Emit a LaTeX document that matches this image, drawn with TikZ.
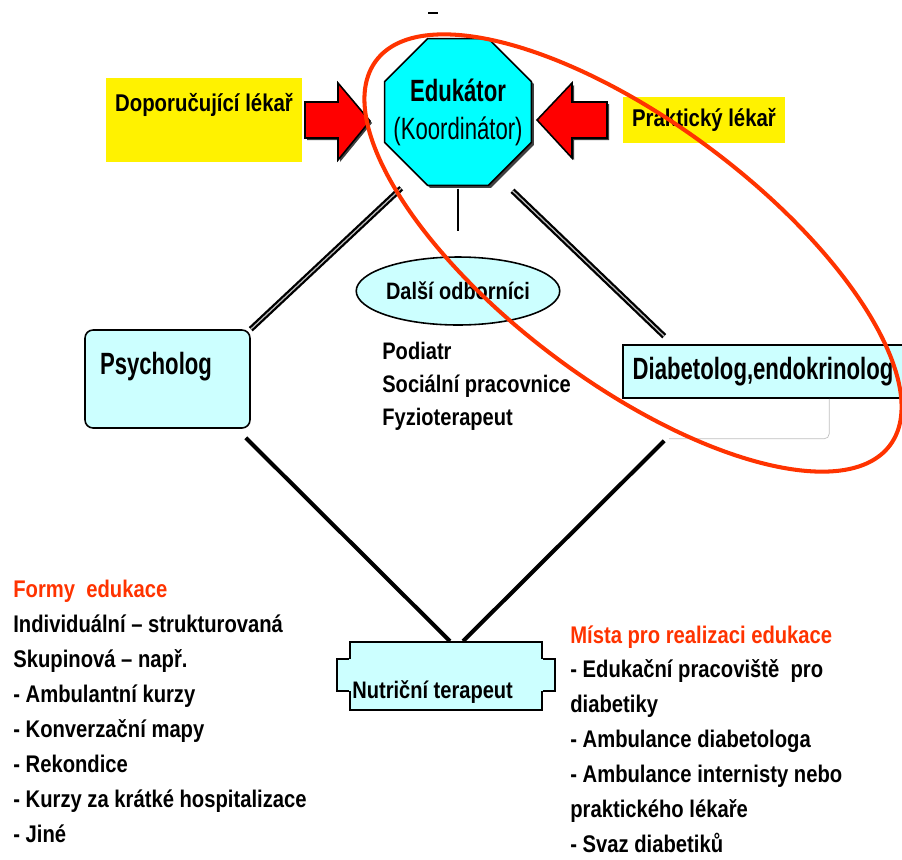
\documentclass[tikz,border=0pt]{standalone}
\usepackage{fontspec}
\setmainfont{Liberation Sans}[FakeStretch=0.84]
\newfontfamily\narrowfont{Liberation Sans}[FakeStretch=0.72]
\usetikzlibrary{shapes.geometric,positioning,shadows}
\definecolor{paleblue}{RGB}{204,255,255}
\definecolor{hubcyan}{RGB}{0,255,255}
\definecolor{loopred}{RGB}{255,51,0}
\tikzset
{
    plaintext/.style = {align=left, inner sep=0pt, font=\bfseries\fontsize{13.7}{19.9}\selectfont},
    notebox/.style   = {fill=yellow, inner sep=0pt, font=\bfseries\fontsize{13.8}{16}\selectfont},
    hubnode/.style   = {regular polygon, regular polygon sides=8, minimum size=3.18cm, inner sep=0pt, draw=black, line width=0.9pt, fill=hubcyan, drop shadow={shadow xshift=0.05cm, shadow yshift=-0.05cm, fill=black!75, opacity=1}},
    hubtext/.style   = {align=center, inner sep=0pt, font=\narrowfont\fontsize{17.5}{21.6}\selectfont},
    rolebox/.style   = {draw=black, line width=0.9pt, fill=paleblue, inner sep=0pt, font=\narrowfont\bfseries\fontsize{17.5}{21}\selectfont},
    ovalnode/.style  = {ellipse, draw=black, line width=0.9pt, fill=paleblue, inner sep=0pt, minimum width=3.3cm, minimum height=1.36cm, font=\bfseries\fontsize{13.5}{16}\selectfont},
    link/.style      = {line width=2.3pt, black},
    dlink/.style     = {line width=1.3pt, double=gray!50, double distance=0.7pt},
    pointer/.style   = {fill=red, draw=black, line width=0.9pt}
}

\begin{document}
\begin{tikzpicture}[x=0.02cm, y=-0.02cm]
\useasboundingbox (0,0) rectangle (902,859);
\draw[line width=1.2pt] (428,13) -- (438,13);

\node[notebox, minimum width=3.92cm, text height=0.66cm, text depth=1.02cm] (doporucujici) at (204,120) {Doporučující lékař};
\node[notebox, minimum width=3.24cm, minimum height=0.92cm] (prakticky) at (704,120) {Praktický lékař};
\node[hubnode] (edukator) at (458,112) {};
\node[hubtext] (edukatortext) at (edukator.center) {\textbf{Edukátor}\\(Koordinátor)};

\fill[black!75] (307,104) -- (340,104) -- (340,85) -- (372,123) -- (340,162) -- (340,140) -- (307,140) -- cycle;
\draw[pointer] (305,102) -- (338,102) -- (338,83) -- (370,121) -- (338,160) -- (338,138) -- (305,138) -- cycle;
\fill[black!75] (609,104) -- (574,104) -- (574,85) -- (539,122) -- (574,160) -- (574,140) -- (609,140) -- cycle;
\draw[pointer] (607,102) -- (572,102) -- (572,83) -- (537,120) -- (572,158) -- (572,138) -- (607,138) -- cycle;

\node[rolebox, rounded corners=0.16cm, text height=0.88cm, text depth=1.08cm, inner xsep=0.3cm, text width=2.7cm, align=left] (psycholog) at (167.5,379) {Psycholog};
\node[rolebox, minimum width=5.6cm, minimum height=1.06cm] (diabetolog) at (763,371.5) {Diabetolog,endokrinolog};
\draw[gray!50, rounded corners=0.1cm] ([xshift=4.14cm]diabetolog.south west) -- ++(0,40) -- ++(-160,0);
\node[ovalnode] (dalsi) at (458,291) {Další odborníci};
\node[plaintext, anchor=north west, font=\bfseries\fontsize{13.6}{18.8}\selectfont] (odbornici) at (382,342) {Podiatr\\Sociální pracovnice\\Fyzioterapeut};

\node[rolebox, text height=1.1cm, text depth=0.26cm, text width=3.76cm, inner xsep=0.04cm, align=left] (nutricni) at (446,676) {};
\fill[paleblue] ([yshift=-0.36cm]nutricni.north west) ++(-12,0) rectangle ++(13.5,32);
\draw[line width=0.9pt] ([yshift=-0.36cm]nutricni.north west) -- ++(-12,0) -- ++(0,32) -- ++(12,0);
\fill[paleblue] ([yshift=-0.36cm]nutricni.north east) ++(12,0) rectangle ++(-13.5,32);
\draw[line width=0.9pt] ([yshift=-0.36cm]nutricni.north east) -- ++(12,0) -- ++(0,32) -- ++(-12,0);
\node[inner sep=0pt, anchor=base west, font=\bfseries\fontsize{13.6}{16}\selectfont] (nutricnitext) at (352,698) {Nutriční terapeut};

\draw[dlink] (psycholog.north east) -- ([xshift=-0.51cm,yshift=-0.05cm]edukator.247.5);
\draw[dlink] ([xshift=0.49cm,yshift=-0.09cm]edukator.292.5) -- ([xshift=0.84cm,yshift=0.16cm]diabetolog.north west);
\draw[line width=0.9pt, shorten <=0.05cm, shorten >=0.5cm] (edukator.south) -- (dalsi.north);
\draw[link] ([xshift=-0.1cm,yshift=-0.18cm]psycholog.south east) -- ([xshift=0.08cm]nutricni.north);
\draw[link] ([xshift=0.84cm,yshift=-0.84cm]diabetolog.south west) -- ([xshift=0.34cm]nutricni.north);

\node[plaintext, anchor=north west] (formy) at (13,580) {\textcolor{loopred}{Formy\ \ edukace}\\Individuální – strukturovaná\\Skupinová – např.\\- Ambulantní kurzy\\- Konverzační mapy\\- Rekondice\\- Kurzy za krátké hospitalizace\\- Jiné};
\node[plaintext, anchor=north west] (mista) at (570,625) {\textcolor{loopred}{Místa pro realizaci edukace}\\- Edukační pracoviště\ \ pro\\diabetiky\\- Ambulance diabetologa\\- Ambulance internisty nebo\\praktického lékaře\\- Svaz diabetiků};

\draw[loopred, line width=2.3pt, rotate around={-36.8:(633,253)}] (633,253) ellipse [x radius=6.42cm, y radius=2.6cm];
\end{tikzpicture}
\end{document}
